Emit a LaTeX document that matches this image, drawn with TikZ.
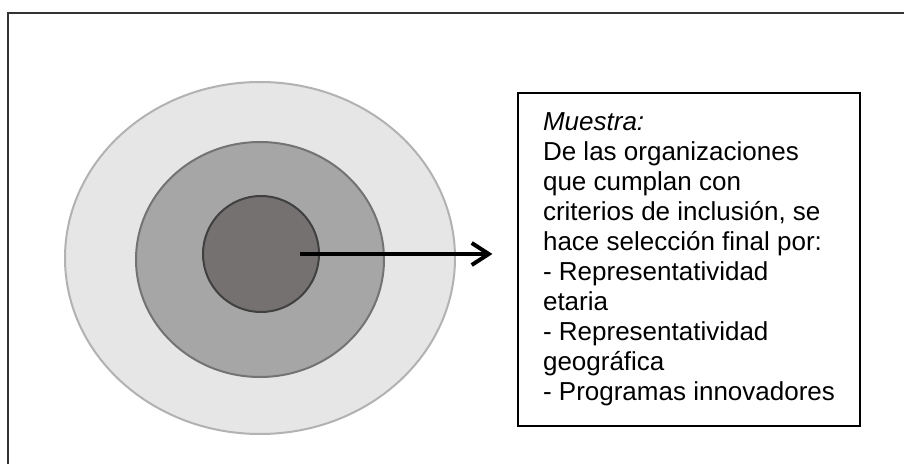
\documentclass[tikz,border=0pt]{standalone}
\usepackage{fontspec}
\setmainfont{Liberation Sans}
\usetikzlibrary{shapes.geometric,arrows.meta,positioning}

\definecolor{ringlight}{HTML}{E7E6E6}
\definecolor{ringmid}{HTML}{A6A6A6}
\definecolor{ringdark}{HTML}{767171}

\begin{document}
\begin{tikzpicture}[
    x=0.5pt,y=-0.5pt,
    ring/.style={ellipse,draw,line width=1pt,inner sep=0pt},
    infobox/.style={rectangle,draw,line width=0.6pt,minimum width=171pt,minimum height=166.5pt,
        align=left,font=\fontsize{13pt}{15pt}\selectfont},
    arrow/.style={-{Straight Barb[length=8.5pt,width=11pt,line width=2pt]},line width=2pt},
    frame/.style={draw=black!80,line width=0.6pt}
]
\useasboundingbox (0,0) rectangle (904,464);

% Frame
\draw[frame] (8,464) -- (8,13) -- (904,13);

% Rings
\node[ring,fill=ringlight,draw=black!30,minimum width=195pt,minimum height=176pt] (outer) at (260,258) {};
\node[ring,fill=ringmid,draw=black!55,minimum width=124pt,minimum height=117.5pt] (middle) at (260,259.5) {};
\node[ring,fill=ringdark,draw=black!75,minimum width=58pt,minimum height=58pt] (inner) at (261,254) {};

% Sample description
\node[infobox] (muestra) at (689,259.5) {\textit{Muestra:}\\
De las organizaciones\\
que cumplan con\\
criterios de inclusión, se\\
hace selección final por:\\
- Representatividad\\
etaria\\
- Representatividad\\
geográfica\\
- Programas innovadores};

% Arrow
\draw[arrow] ([xshift=19.5pt]inner.center) -- ([xshift=-12.5pt]inner.center -| muestra.west);

\end{tikzpicture}
\end{document}
